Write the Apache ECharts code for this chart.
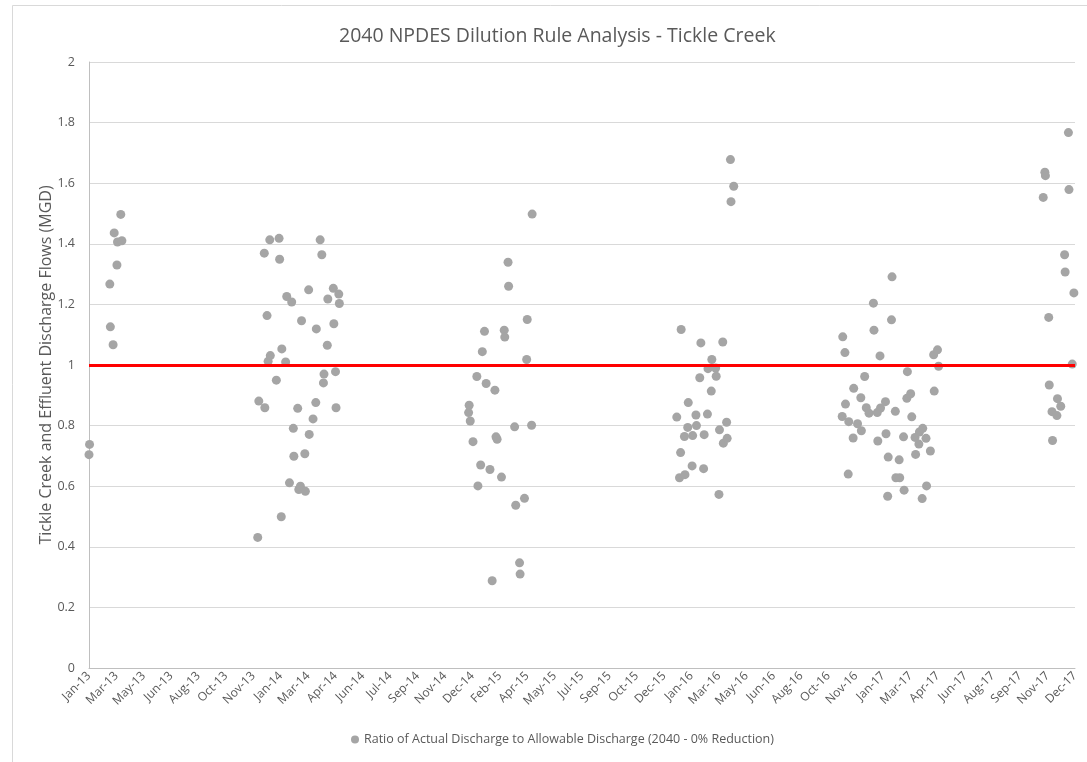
<!DOCTYPE html>
<html>
<head>
<meta charset="utf-8">
<title>2040 NPDES Dilution Rule Analysis - Tickle Creek</title>
<script src="https://cdn.jsdelivr.net/npm/echarts@6/dist/echarts.min.js"></script>
<style>
  html, body { margin: 0; padding: 0; background: #fff; }
  #main { width: 1087px; height: 762px; }
</style>
</head>
<body>
<div id="main"></div>
<script>
// axis starts at first sample date, labels every 50 days (Excel date axis)
const axisStart = '2013-01-26'
const axisDays = 1800
const labelStepDays = 50
const yTicks = [0, 0.2, 0.4, 0.6, 0.8, 1, 1.2, 1.4, 1.6, 1.8, 2]
const allowableRatio = 1

const seriesName = 'Ratio of Actual Discharge to Allowable Discharge (2040 - 0% Reduction)'

// sample dates and ratios, one pair per dot
const dates = [
  // winter 2013
  '2013-01-26', '2013-01-27', '2013-03-05', '2013-03-06', '2013-03-11', '2013-03-13', '2013-03-18', '2013-03-19', '2013-03-25', '2013-03-27',
  // winter 2013-14
  '2013-11-30', '2013-12-02', '2013-12-12', '2013-12-13', '2013-12-17', '2013-12-19', '2013-12-22', '2013-12-23', '2014-01-03', '2014-01-08',
  '2014-01-09', '2014-01-12', '2014-01-13', '2014-01-20', '2014-01-22', '2014-01-27', '2014-01-31', '2014-02-03', '2014-02-04', '2014-02-11',
  '2014-02-13', '2014-02-16', '2014-02-18', '2014-02-24', '2014-02-25', '2014-03-03', '2014-03-04', '2014-03-11', '2014-03-16', '2014-03-17',
  '2014-03-24', '2014-03-27', '2014-03-30', '2014-03-31', '2014-04-06', '2014-04-07', '2014-04-17', '2014-04-18', '2014-04-21', '2014-04-22',
  '2014-04-27', '2014-04-28',
  // winter 2014-15
  '2014-12-20', '2014-12-21', '2014-12-23', '2014-12-28', '2015-01-04', '2015-01-06', '2015-01-11', '2015-01-14', '2015-01-18', '2015-01-21',
  '2015-01-28', '2015-02-01', '2015-02-06', '2015-02-08', '2015-02-10', '2015-02-18', '2015-02-23', '2015-02-24', '2015-03-02', '2015-03-03',
  '2015-03-14', '2015-03-16', '2015-03-23', '2015-03-24', '2015-04-01', '2015-04-05', '2015-04-06', '2015-04-14', '2015-04-15',
  // winter 2016
  '2016-01-04', '2016-01-09', '2016-01-11', '2016-01-12', '2016-01-18', '2016-01-19', '2016-01-24', '2016-01-25', '2016-02-01', '2016-02-02',
  '2016-02-08', '2016-02-09', '2016-02-15', '2016-02-17', '2016-02-22', '2016-02-23', '2016-02-29', '2016-03-01', '2016-03-07', '2016-03-08',
  '2016-03-15', '2016-03-16', '2016-03-21', '2016-03-22', '2016-03-28', '2016-03-29', '2016-04-04', '2016-04-05', '2016-04-11', '2016-04-12',
  '2016-04-17',
  // winter 2016-17
  '2016-11-01', '2016-11-02', '2016-11-06', '2016-11-07', '2016-11-12', '2016-11-13', '2016-11-21', '2016-11-22', '2016-11-29', '2016-12-05',
  '2016-12-06', '2016-12-12', '2016-12-15', '2016-12-20', '2016-12-28', '2016-12-29', '2017-01-04', '2017-01-05', '2017-01-09', '2017-01-10',
  '2017-01-19', '2017-01-20', '2017-01-23', '2017-01-24', '2017-01-30', '2017-01-31', '2017-02-06', '2017-02-07', '2017-02-13', '2017-02-14',
  '2017-02-21', '2017-02-22', '2017-02-27', '2017-02-28', '2017-03-06', '2017-03-08', '2017-03-14', '2017-03-15', '2017-03-21', '2017-03-22',
  '2017-03-27', '2017-03-28', '2017-04-03', '2017-04-04', '2017-04-11', '2017-04-17', '2017-04-18', '2017-04-24', '2017-04-26',
  // winter 2017
  '2017-11-03', '2017-11-06', '2017-11-07', '2017-11-13', '2017-11-14', '2017-11-19', '2017-11-20', '2017-11-28', '2017-11-29', '2017-12-05',
  '2017-12-12', '2017-12-13', '2017-12-19', '2017-12-20', '2017-12-26', '2017-12-29'
]

const ratios = [
  // winter 2013
  0.704, 0.738, 1.267, 1.126, 1.067, 1.436, 1.330, 1.406, 1.497, 1.410,
  // winter 2013-14
  0.431, 0.881, 1.369, 0.859, 1.163, 1.012, 1.413, 1.031, 0.950, 1.418,
  1.349, 0.499, 1.053, 1.010, 1.226, 0.611, 1.208, 0.791, 0.699, 0.857,
  0.589, 0.600, 1.146, 0.707, 0.583, 1.248, 0.771, 0.822, 0.876, 1.119,
  1.413, 1.364, 0.941, 0.970, 1.065, 1.218, 1.253, 1.136, 0.978, 0.859,
  1.234, 1.203,
  // winter 2014-15
  0.843, 0.867, 0.815, 0.747, 0.962, 0.601, 0.670, 1.044, 1.111, 0.939,
  0.655, 0.288, 0.917, 0.763, 0.755, 0.630, 1.115, 1.092, 1.339, 1.260,
  0.796, 0.537, 0.347, 0.310, 0.560, 1.018, 1.150, 0.801, 1.498,
  // winter 2016
  0.828, 0.628, 0.711, 1.117, 0.764, 0.638, 0.794, 0.876, 0.667, 0.767,
  0.835, 0.800, 0.958, 1.073, 0.658, 0.770, 0.838, 0.988, 0.914, 1.018,
  0.990, 0.963, 0.573, 0.786, 1.076, 0.742, 0.811, 0.758, 1.678, 1.539,
  1.590,
  // winter 2016-17
  0.830, 1.093, 1.041, 0.871, 0.640, 0.813, 0.759, 0.923, 0.806, 0.892,
  0.783, 0.962, 0.859, 0.841, 1.204, 1.115, 0.843, 0.749, 1.030, 0.858,
  0.879, 0.773, 0.567, 0.696, 1.149, 1.291, 0.847, 0.628, 0.687, 0.628,
  0.763, 0.587, 0.890, 0.978, 0.905, 0.829, 0.761, 0.705, 0.739, 0.779,
  0.559, 0.791, 0.758, 0.601, 0.716, 1.034, 0.914, 1.050, 0.996,
  // winter 2017
  1.553, 1.636, 1.625, 1.157, 0.934, 0.846, 0.751, 0.833, 0.889, 0.864,
  1.364, 1.307, 1.767, 1.579, 1.003, 1.238
]

const MONTHS = ['Jan', 'Feb', 'Mar', 'Apr', 'May', 'Jun', 'Jul', 'Aug', 'Sep', 'Oct', 'Nov', 'Dec']
const DAY = 86400000

function toUTC(s) {
  const p = s.split('-').map(Number)
  return Date.UTC(p[0], p[1] - 1, p[2])
}
const startMs = toUTC(axisStart)

// days since axis start, so ticks land every labelStepDays from the first date
function dayOffset(s) {
  return Math.round((toUTC(s) - startMs) / DAY)
}

function dateLabel(v) {
  const d = new Date(startMs + v * DAY)
  return MONTHS[d.getUTCMonth()] + '-' + String(d.getUTCFullYear()).slice(2)
}

const points = dates.map((d, i) => [dayOffset(d), ratios[i]])

const textColor = '#595959'
const font = '"Open Sans", "Noto Sans", sans-serif'

const myChart = echarts.init(document.getElementById('main'))
myChart.setOption({
  backgroundColor: '#fff',
  animation: false,
  textStyle: { fontFamily: font },
  title: {
    text: '2040 NPDES Dilution Rule Analysis - Tickle Creek',
    left: 334,
    top: 21,
    textStyle: { fontFamily: font, fontSize: 19.5, fontWeight: 'normal', color: textColor }
  },
  graphic: [{
    type: 'rect',
    silent: true,
    z: -1,
    shape: { x: 12.5, y: 5.5, width: 1100, height: 770 },
    style: { fill: 'none', stroke: '#D9D9D9', lineWidth: 1 }
  }],
  legend: {
    data: [seriesName],
    bottom: 11,
    left: 346,
    icon: 'circle',
    itemWidth: 8,
    itemHeight: 8,
    itemGap: 6,
    textStyle: { fontFamily: font, fontSize: 12.5, color: textColor }
  },
  grid: { left: 89, right: 12, top: 62, bottom: 94 },
  xAxis: {
    type: 'value',
    min: 0,
    max: axisDays,
    interval: labelStepDays,
    splitLine: { show: false },
    axisTick: { show: false },
    axisLine: { show: true, lineStyle: { color: '#BFBFBF', width: 1 } },
    axisLabel: {
      rotate: 45,
      margin: 6,
      fontSize: 12,
      color: textColor,
      fontFamily: font,
      showMinLabel: true,
      showMaxLabel: true,
      formatter: dateLabel
    }
  },
  yAxis: {
    type: 'value',
    min: yTicks[0],
    max: yTicks[yTicks.length - 1],
    interval: yTicks[1] - yTicks[0],
    name: 'Tickle Creek and Effluent Discharge Flows (MGD)',
    nameLocation: 'middle',
    nameGap: 35,
    nameMoveOverlap: false,
    nameTextStyle: { fontFamily: font, fontSize: 16, color: textColor },
    axisLine: { show: true, lineStyle: { color: '#BFBFBF', width: 1 } },
    axisTick: { show: false },
    splitLine: { lineStyle: { color: '#D9D9D9', width: 1 } },
    axisLabel: { fontSize: 12.5, color: textColor, margin: 14, fontFamily: font }
  },
  series: [{
    name: seriesName,
    type: 'scatter',
    data: points,
    symbol: 'circle',
    symbolSize: 9,
    itemStyle: { color: '#A5A5A5', opacity: 1 },
    markLine: {
      silent: true,
      symbol: ['none', 'none'],
      label: { show: false },
      lineStyle: { color: '#FF0000', width: 3, type: 'solid' },
      data: [{ yAxis: allowableRatio }]
    }
  }]
})
window.addEventListener('resize', function () {
  myChart.resize()
})
</script>
</body>
</html>
